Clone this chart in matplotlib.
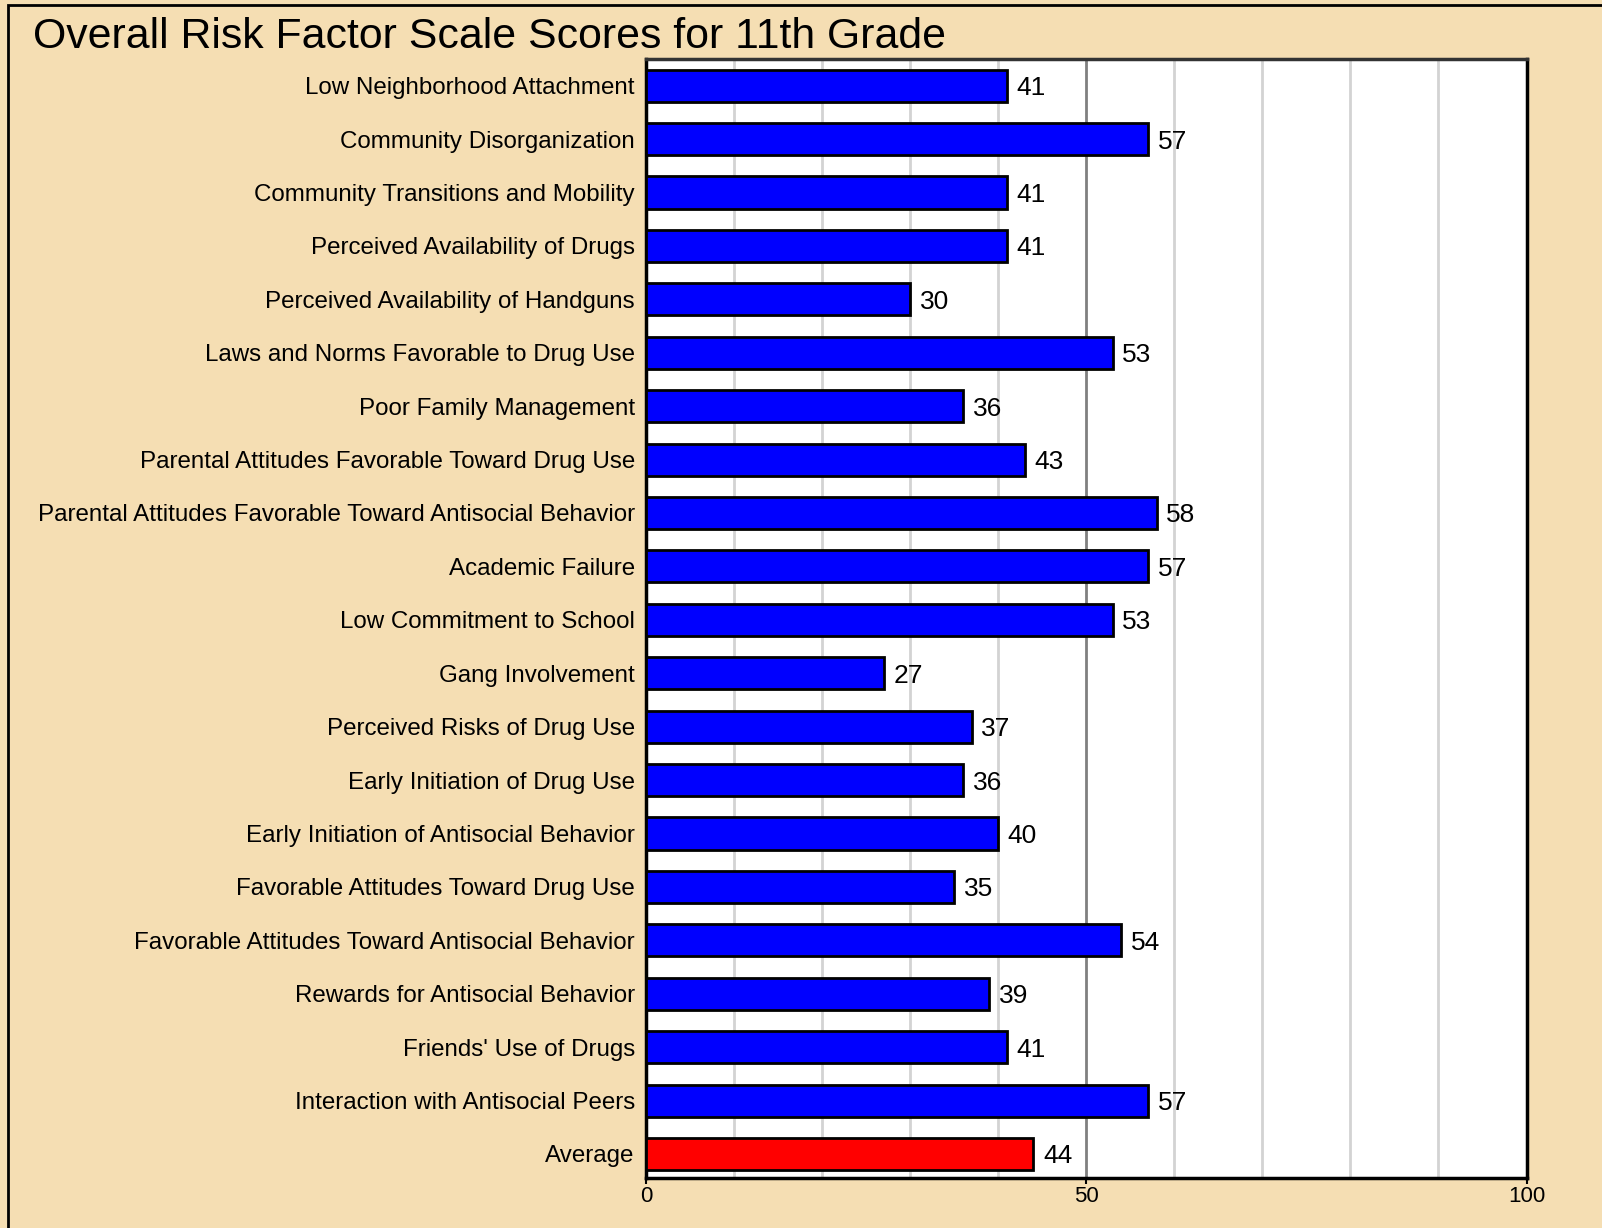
import matplotlib
matplotlib.use('Agg')
import matplotlib.pyplot as plt
from matplotlib.patches import Rectangle

plt.rcParams['font.family'] = ['Liberation Sans', 'DejaVu Sans']

# risk factor scale scores, 11th grade
factors = [
    'Low Neighborhood Attachment',
    'Community Disorganization',
    'Community Transitions and Mobility',
    'Perceived Availability of Drugs',
    'Perceived Availability of Handguns',
    'Laws and Norms Favorable to Drug Use',
    'Poor Family Management',
    'Parental Attitudes Favorable Toward Drug Use',
    'Parental Attitudes Favorable Toward Antisocial Behavior',
    'Academic Failure',
    'Low Commitment to School',
    'Gang Involvement',
    'Perceived Risks of Drug Use',
    'Early Initiation of Drug Use',
    'Early Initiation of Antisocial Behavior',
    'Favorable Attitudes Toward Drug Use',
    'Favorable Attitudes Toward Antisocial Behavior',
    'Rewards for Antisocial Behavior',
    "Friends' Use of Drugs",
    'Interaction with Antisocial Peers',
    'Average',
]
scores = [41, 57, 41, 41, 30, 53, 36, 43, 58, 57, 53, 27, 37, 36, 40, 35, 54, 39, 41, 57, 44]
xticks = [0, 50, 100]

bg = '#F5DEB3'
fig = plt.figure(figsize=(16.02, 12.28), dpi=100, facecolor=bg)
ax = fig.add_axes([0.4032, 0.0407, 0.5497, 0.9113])
ax.set_facecolor('white')

# outer frame of the figure
fig.patches.append(Rectangle((8 / 1602, -0.1), 1.2, 1 - 5 / 1228 + 0.1,
                             transform=fig.transFigure, fill=False,
                             edgecolor='black', lw=2))

colors = ['#0000FF'] * (len(scores) - 1) + ['#FF0000']
ypos = list(range(len(factors)))
ax.barh(ypos, scores, height=0.6, color=colors, edgecolor='black', lw=2, zorder=3)

for y, v in zip(ypos, scores):
    ax.text(v + 1.1, y, str(v), va='center_baseline', ha='left', fontsize=19, zorder=4)

# vertical gridlines, every 10 with the midpoint darker
for g in range(10, 100, 10):
    ax.axvline(g, color='#808080' if g == 50 else '#D3D3D3', lw=2, zorder=1)

ax.set_xlim(0, 100)
ax.set_ylim(len(factors) - 0.55, -0.5)
ax.set_xticks(xticks)
ax.set_xticklabels([str(t) for t in xticks], fontsize=16)
ax.set_yticks(ypos)
ax.set_yticklabels(factors, fontsize=17.4)
ax.tick_params(axis='y', length=0, pad=8)
ax.tick_params(axis='x', length=4, width=1.5, pad=2)

for side in ['left', 'right', 'bottom']:
    ax.spines[side].set_linewidth(2.5)
    ax.spines[side].set_color('black')
ax.spines['top'].set_linewidth(2.5)
ax.spines['top'].set_color('#333333')

fig.text(33 / 1602, 1 - 37 / 1228, 'Overall Risk Factor Scale Scores for 11th Grade',
         fontsize=30.8, va='center', ha='left')

fig.savefig('out.png', dpi=100, facecolor=bg)
